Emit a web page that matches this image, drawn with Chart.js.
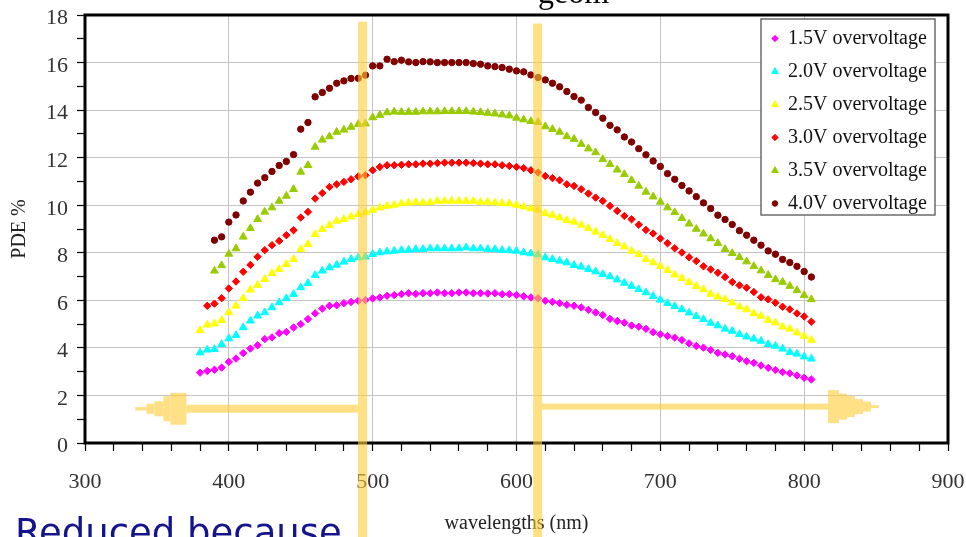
<!DOCTYPE html>
<html><head><meta charset="utf-8">
<script src="https://cdn.jsdelivr.net/npm/chart.js@4.4.0/dist/chart.umd.min.js"></script>
<style>html,body{margin:0;padding:0;background:#fff;overflow:hidden}canvas{display:block}</style>
</head><body>
<canvas id="c" width="966" height="537"></canvas>
<script>
// ---------------- data ----------------
const wavelengths = [380,385,390,395,400,405,410,415,420,425,430,435,440,445,450,455,460,465,470,475,480,485,490,495,
  500,505,510,515,520,525,530,535,540,545,550,555,560,565,570,575,580,585,590,595,600,605,610,615,
  620,625,630,635,640,645,650,655,660,665,670,675,680,685,690,695,700,705,710,715,720,725,730,735,740,745,750,755,760,765,770,775,780,785,790,795,800,805];

const pde15 = [2.96,3.03,3.08,3.17,3.41,3.55,3.78,3.97,4.11,4.37,4.44,4.62,4.67,4.86,5.00,5.21,5.45,5.65,5.77,5.79,5.88,5.93,5.98,6.01,
  6.08,6.12,6.19,6.22,6.26,6.30,6.27,6.30,6.30,6.33,6.30,6.30,6.33,6.33,6.30,6.30,6.29,6.30,6.26,6.26,6.22,6.17,6.12,6.09,
  5.98,5.94,5.88,5.81,5.77,5.70,5.60,5.49,5.38,5.22,5.13,5.06,4.94,4.89,4.80,4.66,4.57,4.50,4.43,4.33,4.19,4.08,4.01,3.91,3.79,3.72,3.65,3.54,3.44,3.37,3.26,3.16,3.07,2.98,2.93,2.84,2.74,2.67];

const pde20 = [3.80,3.92,3.94,4.15,4.39,4.53,4.86,5.14,5.35,5.49,5.70,5.91,6.08,6.26,6.54,6.72,7.06,7.24,7.38,7.49,7.62,7.73,7.80,7.83,
  7.94,8.01,8.05,8.08,8.11,8.12,8.15,8.15,8.18,8.18,8.18,8.18,8.18,8.22,8.18,8.18,8.15,8.15,8.11,8.10,8.08,8.01,7.97,7.92,
  7.80,7.73,7.66,7.59,7.48,7.41,7.31,7.21,7.10,7.00,6.87,6.73,6.60,6.46,6.33,6.17,6.02,5.88,5.75,5.62,5.48,5.33,5.20,5.05,4.94,4.80,4.71,4.57,4.47,4.38,4.29,4.15,4.08,3.96,3.82,3.75,3.63,3.54];

const pde25 = [4.74,4.97,5.02,5.16,5.49,5.77,6.09,6.44,6.64,6.89,7.14,7.31,7.52,7.73,8.15,8.36,8.78,8.99,9.16,9.34,9.41,9.52,9.62,9.70,
  9.80,9.90,9.97,10.01,10.07,10.10,10.13,10.11,10.12,10.18,10.18,10.18,10.18,10.18,10.18,10.14,10.14,10.11,10.08,10.07,10.01,9.94,9.86,9.81,
  9.66,9.59,9.48,9.37,9.30,9.17,9.03,8.88,8.74,8.57,8.40,8.26,8.08,7.94,7.73,7.59,7.43,7.27,7.08,6.93,6.76,6.60,6.46,6.27,6.15,6.04,5.90,5.73,5.62,5.45,5.34,5.17,5.06,4.89,4.80,4.64,4.50,4.33];

const pde30 = [null,5.77,5.86,6.09,6.50,6.79,7.20,7.49,7.83,8.11,8.32,8.50,8.74,8.95,9.48,9.72,10.28,10.51,10.77,10.88,10.98,11.09,11.21,11.26,
  11.47,11.61,11.68,11.68,11.70,11.72,11.72,11.75,11.75,11.77,11.79,11.79,11.79,11.79,11.77,11.75,11.72,11.72,11.68,11.65,11.61,11.56,11.47,11.38,
  11.23,11.14,11.05,10.88,10.81,10.67,10.49,10.32,10.18,9.97,9.76,9.55,9.41,9.18,8.96,8.81,8.60,8.40,8.19,8.01,7.81,7.65,7.43,7.30,7.16,6.98,6.77,6.63,6.53,6.35,6.13,6.04,5.90,5.73,5.62,5.45,5.32,5.10];

const pde35 = [null,null,7.24,7.47,7.95,8.18,8.67,9.03,9.41,9.72,9.90,10.18,10.39,10.67,11.40,11.68,12.45,12.75,12.89,13.08,13.17,13.29,13.41,13.43,
  13.69,13.79,13.90,13.93,13.92,13.92,13.92,13.94,13.94,13.94,13.95,13.95,13.95,13.95,13.93,13.91,13.88,13.85,13.81,13.77,13.67,13.60,13.53,13.49,
  13.31,13.20,13.08,12.89,12.78,12.57,12.38,12.22,11.93,11.72,11.49,11.30,11.05,10.81,10.56,10.36,10.14,9.90,9.70,9.45,9.22,9.00,8.80,8.60,8.40,8.15,7.98,7.81,7.63,7.43,7.25,7.06,6.88,6.77,6.60,6.42,6.21,6.04];

const pde40 = [null,null,8.53,8.67,9.29,9.59,10.18,10.55,10.93,11.16,11.42,11.67,11.84,12.13,13.20,13.48,14.56,14.74,14.92,15.13,15.23,15.33,15.34,15.47,
  15.86,15.86,16.14,16.04,16.10,16.03,16.00,16.04,16.03,16.00,16.00,16.00,16.00,16.00,15.96,15.93,15.86,15.83,15.79,15.72,15.65,15.61,15.48,15.37,
  15.27,15.13,14.98,14.78,14.57,14.42,14.11,13.90,13.66,13.36,13.17,12.87,12.66,12.38,12.12,11.86,11.63,11.33,11.09,10.83,10.60,10.36,10.10,9.86,9.58,9.40,9.19,8.93,8.74,8.53,8.32,8.08,7.94,7.72,7.59,7.43,7.21,6.98];

const seriesLabels = ['1.5V overvoltage','2.0V overvoltage','2.5V overvoltage','3.0V overvoltage','3.5V overvoltage','4.0V overvoltage'];
const seriesValues = [pde15, pde20, pde25, pde30, pde35, pde40];
const xTickLabels = [300,400,500,600,700,800,900];
const yTickLabels = [0,2,4,6,8,10,12,14,16,18];
// annotation positions (in data units)
const markerLines = [493, 614.7];
const leftArrow = {tip: 335, end: 493.3, level: 1.44};
const rightArrow = {start: 615, tip: 852, level: 1.53};

// ---------------- styles ----------------
const colors = ['#FF00FF','#00FFFF','#FFFF00','#FF0000','#99CC00','#800000'];
const styles = ['rectRot','triangle','triangle','rectRot','triangle','circle'];
const radii = [3.7,4.5,4.5,3.7,4.5,3.2];
const SERIF = '"Liberation Serif", "Times New Roman", serif';

const datasets = seriesValues.map((vals, i) => ({
  label: seriesLabels[i],
  data: wavelengths.map((w, j) => ({x: w, y: vals[j]})).filter(p => p.y !== null),
  showLine: false,
  pointStyle: styles[i],
  pointRadius: radii[i],
  pointHoverRadius: radii[i],
  backgroundColor: colors[i],
  borderColor: colors[i],
  borderWidth: 1
}));

function legendPoint(ctx, style, r, x, y) {
  if (Chart.helpers && Chart.helpers.drawPoint) {
    Chart.helpers.drawPoint(ctx, {pointStyle: style, radius: r, borderWidth: 1, rotation: 0}, x, y);
    return;
  }
  ctx.beginPath();
  if (style === 'circle') ctx.arc(x, y, r, 0, Math.PI * 2);
  else if (style === 'triangle') { ctx.moveTo(x, y - r); ctx.lineTo(x + r * 0.866, y + r / 2); ctx.lineTo(x - r * 0.866, y + r / 2); ctx.closePath(); }
  else { ctx.moveTo(x - r, y); ctx.lineTo(x, y - r); ctx.lineTo(x + r, y); ctx.lineTo(x, y + r); ctx.closePath(); }
  ctx.fill(); ctx.stroke();
}

const overlay = {
  id: 'overlay',
  afterDraw(chart) {
    const ctx = chart.ctx, a = chart.chartArea, xs = chart.scales.x, ys = chart.scales.y;
    const px = v => xs.getPixelForValue(v), py = v => ys.getPixelForValue(v);
    ctx.save();
    // plot frame
    ctx.strokeStyle = '#000'; ctx.lineWidth = 3;
    ctx.strokeRect(a.left, a.top, a.right - a.left, a.bottom - a.top);
    // legend box
    const lx = 761, ly = 19, lw = 174, lh = 196;
    ctx.fillStyle = '#fff'; ctx.fillRect(lx, ly, lw, lh);
    ctx.strokeStyle = '#555'; ctx.lineWidth = 1.3; ctx.strokeRect(lx, ly, lw, lh);
    chart.data.datasets.forEach((ds, i) => {
      const cy = 38.5 + i * 33;
      ctx.fillStyle = ds.backgroundColor; ctx.strokeStyle = ds.borderColor; ctx.lineWidth = 1;
      legendPoint(ctx, ds.pointStyle, ds.pointRadius * 0.85, 775, cy);
      ctx.fillStyle = '#111'; ctx.font = '20px ' + SERIF;
      ctx.textAlign = 'left'; ctx.textBaseline = 'middle';
      ctx.fillText(ds.label, 788, cy);
    });
    // cut-off title and caption
    ctx.fillStyle = '#000'; ctx.font = '32px ' + SERIF; ctx.textBaseline = 'alphabetic';
    ctx.fillText('geom', 538, 3);
    ctx.fillStyle = '#14148c'; ctx.font = '37px "DejaVu Sans", Verdana, sans-serif';
    ctx.fillText('Reduced because', 15, 545);
    // translucent yellow annotations
    const off = document.createElement('canvas');
    off.width = chart.width; off.height = chart.height;
    const o = off.getContext('2d');
    o.fillStyle = '#FFCC33';
    const barW = 9;
    o.fillRect(px(markerLines[0]) - barW / 2, py(17.72), barW, chart.height);
    o.fillRect(px(markerLines[1]) - barW / 2, py(17.64), barW, chart.height);
    // left arrow
    let tx = px(leftArrow.tip), cy = py(leftArrow.level);
    [[0,11,1.7],[11,19,5],[19,28,7.5],[28,35,12.5],[35,51,16]].forEach(([s, e, h]) => o.fillRect(tx + s, cy - h, e - s, 2 * h));
    o.fillRect(tx + 51, cy - 4, px(leftArrow.end) - tx - 51, 8);
    // right arrow
    tx = px(rightArrow.tip); cy = py(rightArrow.level);
    [[0,8,1.5],[8,16,5],[16,24,7.5],[24,32,10.5],[32,40,13],[40,51,16.5]].forEach(([s, e, h]) => o.fillRect(tx - e, cy - h, e - s, 2 * h));
    o.fillRect(px(rightArrow.start), cy - 3, tx - 51 - px(rightArrow.start), 6);
    ctx.globalAlpha = 0.6;
    ctx.drawImage(off, 0, 0);
    ctx.restore();
  }
};

new Chart(document.getElementById('c'), {
  type: 'scatter',
  data: {datasets},
  options: {
    responsive: false,
    animation: false,
    events: [],
    layout: {padding: {top: 15, right: 18, left: 0, bottom: 0}},
    plugins: {legend: {display: false}, tooltip: {enabled: false}, title: {display: false}},
    scales: {
      x: {
        type: 'linear', min: 300, max: 900,
        afterFit: s => { s.height = 94; s.paddingLeft = 0; s.paddingRight = 0; },
        ticks: {stepSize: 20, autoSkip: false, maxRotation: 0, padding: 18,
          callback: v => xTickLabels.includes(v) ? String(v) : '',
          font: {family: SERIF, size: 22}, color: '#333'},
        grid: {color: c => (c.tick && xTickLabels.includes(c.tick.value)) ? '#c4c4c4' : 'rgba(0,0,0,0)',
          tickColor: '#000', tickLength: 8, tickWidth: 1.2, lineWidth: 1},
        border: {display: false},
        title: {display: true, text: 'wavelengths (nm)', font: {family: SERIF, size: 20}, color: '#222', padding: {top: 0, bottom: 1}}
      },
      y: {
        min: 0, max: 18,
        afterFit: s => { s.width = 85; s.paddingTop = 0; s.paddingBottom = 0; },
        ticks: {stepSize: 1, autoSkip: false, padding: 9, labelOffset: 3.5,
          callback: v => yTickLabels.includes(v) ? String(v) : '',
          font: {family: SERIF, size: 22}, color: '#333'},
        grid: {color: c => (c.tick && yTickLabels.includes(c.tick.value)) ? '#c4c4c4' : 'rgba(0,0,0,0)',
          tickColor: '#000', tickLength: 8, tickWidth: 1.2, lineWidth: 1},
        border: {display: false},
        title: {display: true, text: 'PDE %', font: {family: SERIF, size: 20}, color: '#222', padding: {top: 8, bottom: 0}}
      }
    }
  },
  plugins: [overlay]
});
</script>
</body></html>
